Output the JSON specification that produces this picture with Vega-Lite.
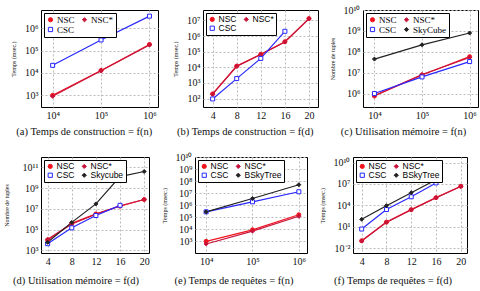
{
"$schema":"https://vega.github.io/schema/vega-lite/v6.json",
"padding":{"left":2,"top":4,"right":2,"bottom":2},
"datasets":{"d":[
{"p":"a","s":"NSC","x":10000,"y":1000},{"p":"a","s":"NSC","x":100000,"y":13000},{"p":"a","s":"NSC","x":1000000,"y":190000},
{"p":"a","s":"NSC*","x":10000,"y":900},{"p":"a","s":"NSC*","x":100000,"y":12500},{"p":"a","s":"NSC*","x":1000000,"y":180000},
{"p":"a","s":"CSC","x":10000,"y":22000},{"p":"a","s":"CSC","x":100000,"y":300000},{"p":"a","s":"CSC","x":1000000,"y":3500000},
{"p":"b","s":"NSC","x":4,"y":200},{"p":"b","s":"NSC","x":8,"y":12000},{"p":"b","s":"NSC","x":12,"y":68000},{"p":"b","s":"NSC","x":16,"y":430000},{"p":"b","s":"NSC","x":20,"y":13000000},
{"p":"b","s":"NSC*","x":4,"y":190},{"p":"b","s":"NSC*","x":8,"y":11500},{"p":"b","s":"NSC*","x":12,"y":66000},{"p":"b","s":"NSC*","x":16,"y":420000},{"p":"b","s":"NSC*","x":20,"y":12500000},
{"p":"b","s":"CSC","x":4,"y":95},{"p":"b","s":"CSC","x":8,"y":1900},{"p":"b","s":"CSC","x":12,"y":37000},{"p":"b","s":"CSC","x":16,"y":2000000},
{"p":"c","s":"NSC","x":10000,"y":800000},{"p":"c","s":"NSC","x":100000,"y":8000000},{"p":"c","s":"NSC","x":1000000,"y":60000000},
{"p":"c","s":"NSC*","x":10000,"y":850000},{"p":"c","s":"NSC*","x":100000,"y":8500000},{"p":"c","s":"NSC*","x":1000000,"y":55000000},
{"p":"c","s":"CSC","x":10000,"y":1050000},{"p":"c","s":"CSC","x":100000,"y":6500000},{"p":"c","s":"CSC","x":1000000,"y":35000000},
{"p":"c","s":"SkyCube","x":10000,"y":46000000},{"p":"c","s":"SkyCube","x":100000,"y":220000000},{"p":"c","s":"SkyCube","x":1000000,"y":800000000},
{"p":"d","s":"NSC","x":4,"y":10000},{"p":"d","s":"NSC","x":8,"y":400000},{"p":"d","s":"NSC","x":12,"y":3300000},{"p":"d","s":"NSC","x":16,"y":18000000},{"p":"d","s":"NSC","x":20,"y":80000000},
{"p":"d","s":"NSC*","x":4,"y":12000},{"p":"d","s":"NSC*","x":8,"y":350000},{"p":"d","s":"NSC*","x":12,"y":3000000},{"p":"d","s":"NSC*","x":16,"y":20000000},{"p":"d","s":"NSC*","x":20,"y":80000000},
{"p":"d","s":"CSC","x":4,"y":4400},{"p":"d","s":"CSC","x":8,"y":150000},{"p":"d","s":"CSC","x":12,"y":2300000},{"p":"d","s":"CSC","x":16,"y":22000000},
{"p":"d","s":"Skycube","x":4,"y":6000},{"p":"d","s":"Skycube","x":8,"y":500000},{"p":"d","s":"Skycube","x":12,"y":30000000},{"p":"d","s":"Skycube","x":16,"y":13000000000},{"p":"d","s":"Skycube","x":20,"y":40000000000},
{"p":"e","s":"NSC","x":10000,"y":1000},{"p":"e","s":"NSC","x":100000,"y":9000},{"p":"e","s":"NSC","x":1000000,"y":160000},
{"p":"e","s":"NSC*","x":10000,"y":600},{"p":"e","s":"NSC*","x":100000,"y":7000},{"p":"e","s":"NSC*","x":1000000,"y":120000},
{"p":"e","s":"CSC","x":10000,"y":280000},{"p":"e","s":"CSC","x":100000,"y":1900000},{"p":"e","s":"CSC","x":1000000,"y":13000000},
{"p":"e","s":"BSkyTree","x":10000,"y":280000},{"p":"e","s":"BSkyTree","x":100000,"y":3600000},{"p":"e","s":"BSkyTree","x":1000000,"y":50000000},
{"p":"f","s":"NSC","x":4,"y":0.11},{"p":"f","s":"NSC","x":8,"y":45},{"p":"f","s":"NSC","x":12,"y":2500},{"p":"f","s":"NSC","x":16,"y":120000},{"p":"f","s":"NSC","x":20,"y":4700000},
{"p":"f","s":"NSC*","x":4,"y":0.1},{"p":"f","s":"NSC*","x":8,"y":42},{"p":"f","s":"NSC*","x":12,"y":2400},{"p":"f","s":"NSC*","x":16,"y":115000},{"p":"f","s":"NSC*","x":20,"y":4500000},
{"p":"f","s":"CSC","x":4,"y":4.8},{"p":"f","s":"CSC","x":8,"y":2600},{"p":"f","s":"CSC","x":12,"y":160000},{"p":"f","s":"CSC","x":16,"y":14000000},
{"p":"f","s":"BSkyTree","x":4,"y":110},{"p":"f","s":"BSkyTree","x":8,"y":9000},{"p":"f","s":"BSkyTree","x":12,"y":600000},{"p":"f","s":"BSkyTree","x":16,"y":40000000}
]},
"data":{"name":"d"},
"spacing":13,
"vconcat":[
{"hconcat":[
{"title":"(a) Temps de construction = f(n)","width":117,"height":97,
 "transform":[{"filter":"datum.p=='a'"}],
 "encoding":{
  "x":{"field":"x","type":"quantitative","scale":{"type":"log","domain":[5750,1500000],"nice":false},"axis":{"title":null,"values":[10000,100000,1000000],"labelExpr":"['10⁻²','10⁻¹','10⁰','10¹','10²','10³','10⁴','10⁵','10⁶','10⁷','10⁸','10⁹','10¹⁰','10¹¹','10¹²'][round(log(datum.value)/LN10)+2]"}},
  "y":{"field":"y","type":"quantitative","scale":{"type":"log","domain":[300,6600000],"nice":false},"axis":{"title":"Temps (msec.)","values":[1000,10000,100000,1000000],"labelExpr":"['10⁻²','10⁻¹','10⁰','10¹','10²','10³','10⁴','10⁵','10⁶','10⁷','10⁸','10⁹','10¹⁰','10¹¹','10¹²'][round(log(datum.value)/LN10)+2]"}},
  "stroke":{"field":"s","type":"nominal","title":null,"scale":{"domain":["NSC","CSC","NSC*"],"range":["#f0141e","#2828ff","#c8143c"]},"legend":{"labelFont":"Liberation Serif","labelFontSize":9}}
 },
 "layer":[
  {"mark":{"type":"line","strokeWidth":1.2}},
  {"mark":{"type":"point","size":16,"opacity":1,"strokeWidth":1},
   "encoding":{"shape":{"field":"s","type":"nominal","title":null,"scale":{"domain":["NSC","CSC","NSC*"],"range":["circle","square","diamond"]},"legend":{"labelFont":"Liberation Serif","labelFontSize":9}},
   "fill":{"field":"s","type":"nominal","title":null,"scale":{"domain":["NSC","CSC","NSC*"],"range":["#f0141e","#ffffff","#c8143c"]},"legend":{"labelFont":"Liberation Serif","labelFontSize":9}}}}
 ]},
{"title":"(b) Temps de construction = f(d)","width":115,"height":97,
 "transform":[{"filter":"datum.p=='b'"}],
 "encoding":{
  "x":{"field":"x","type":"quantitative","scale":{"domain":[2.4,21.5],"nice":false,"zero":false},"axis":{"title":null,"values":[4,8,12,16,20]}},
  "y":{"field":"y","type":"quantitative","scale":{"type":"log","domain":[29,46000000],"nice":false},"axis":{"title":"Temps (msec.)","values":[100,1000,10000,100000,1000000,10000000],"labelExpr":"['10⁻²','10⁻¹','10⁰','10¹','10²','10³','10⁴','10⁵','10⁶','10⁷','10⁸','10⁹','10¹⁰','10¹¹','10¹²'][round(log(datum.value)/LN10)+2]"}},
  "stroke":{"field":"s","type":"nominal","title":null,"scale":{"domain":["NSC","CSC","NSC*"],"range":["#f0141e","#2828ff","#c8143c"]}}
 },
 "layer":[
  {"mark":{"type":"line","strokeWidth":1.2}},
  {"mark":{"type":"point","size":16,"opacity":1,"strokeWidth":1},
   "encoding":{"shape":{"field":"s","type":"nominal","title":null,"scale":{"domain":["NSC","CSC","NSC*"],"range":["circle","square","diamond"]}},
   "fill":{"field":"s","type":"nominal","title":null,"scale":{"domain":["NSC","CSC","NSC*"],"range":["#f0141e","#ffffff","#c8143c"]}}}}
 ]},
{"title":"(c) Utilisation mémoire = f(n)","width":115,"height":97,
 "transform":[{"filter":"datum.p=='c'"}],
 "encoding":{
  "x":{"field":"x","type":"quantitative","scale":{"type":"log","domain":[5750,1500000],"nice":false},"axis":{"title":null,"values":[10000,100000,1000000],"labelExpr":"['10⁻²','10⁻¹','10⁰','10¹','10²','10³','10⁴','10⁵','10⁶','10⁷','10⁸','10⁹','10¹⁰','10¹¹','10¹²'][round(log(datum.value)/LN10)+2]"}},
  "y":{"field":"y","type":"quantitative","scale":{"type":"log","domain":[240000,10000000000],"nice":false},"axis":{"title":"Nombre de tuples","values":[1000000,10000000,100000000,1000000000,10000000000],"labelExpr":"['10⁻²','10⁻¹','10⁰','10¹','10²','10³','10⁴','10⁵','10⁶','10⁷','10⁸','10⁹','10¹⁰','10¹¹','10¹²'][round(log(datum.value)/LN10)+2]"}},
  "stroke":{"field":"s","type":"nominal","title":null,"scale":{"domain":["NSC","CSC","NSC*","SkyCube"],"range":["#f0141e","#2828ff","#c8143c","#222222"]},"legend":{"labelFont":"Liberation Serif","labelFontSize":9}}
 },
 "layer":[
  {"mark":{"type":"line","strokeWidth":1.2}},
  {"mark":{"type":"point","size":16,"opacity":1,"strokeWidth":1},
   "encoding":{"shape":{"field":"s","type":"nominal","title":null,"scale":{"domain":["NSC","CSC","NSC*","SkyCube"],"range":["circle","square","diamond","diamond"]},"legend":{"labelFont":"Liberation Serif","labelFontSize":9}},
   "fill":{"field":"s","type":"nominal","title":null,"scale":{"domain":["NSC","CSC","NSC*","SkyCube"],"range":["#f0141e","#ffffff","#c8143c","#222222"]},"legend":{"labelFont":"Liberation Serif","labelFontSize":9}}}}
 ]}
],"spacing":45,"bounds":"flush","resolve":{"scale":{"stroke":"independent","shape":"independent","fill":"independent"}}},
{"hconcat":[
{"title":{"text":"(d) Utilisation mémoire = f(d)","offset":10},"width":108,"height":96,
 "transform":[{"filter":"datum.p=='d'"}],
 "encoding":{
  "x":{"field":"x","type":"quantitative","scale":{"domain":[2.9,20.8],"nice":false,"zero":false},"axis":{"title":null,"values":[4,8,12,16,20]}},
  "y":{"field":"y","type":"quantitative","scale":{"type":"log","domain":[560,1000000000000],"nice":false},"axis":{"title":"Nombre de tuples","titlePadding":13,"values":[1000,100000,10000000,1000000000,100000000000],"labelExpr":"['10⁻²','10⁻¹','10⁰','10¹','10²','10³','10⁴','10⁵','10⁶','10⁷','10⁸','10⁹','10¹⁰','10¹¹','10¹²'][round(log(datum.value)/LN10)+2]"}},
  "stroke":{"field":"s","type":"nominal","title":null,"scale":{"domain":["NSC","CSC","NSC*","Skycube"],"range":["#f0141e","#2828ff","#c8143c","#222222"]}}
 },
 "layer":[
  {"mark":{"type":"line","strokeWidth":1.2}},
  {"mark":{"type":"point","size":16,"opacity":1,"strokeWidth":1},
   "encoding":{"shape":{"field":"s","type":"nominal","title":null,"scale":{"domain":["NSC","CSC","NSC*","Skycube"],"range":["circle","square","diamond","diamond"]}},
   "fill":{"field":"s","type":"nominal","title":null,"scale":{"domain":["NSC","CSC","NSC*","Skycube"],"range":["#f0141e","#ffffff","#c8143c","#222222"]}}}}
 ]},
{"title":{"text":"(e) Temps de requêtes = f(n)","offset":10},"width":112,"height":96,
 "transform":[{"filter":"datum.p=='e'"}],
 "encoding":{
  "x":{"field":"x","type":"quantitative","scale":{"type":"log","domain":[5750,1500000],"nice":false},"axis":{"title":null,"values":[10000,100000,1000000],"labelExpr":"['10⁻²','10⁻¹','10⁰','10¹','10²','10³','10⁴','10⁵','10⁶','10⁷','10⁸','10⁹','10¹⁰','10¹¹','10¹²'][round(log(datum.value)/LN10)+2]"}},
  "y":{"field":"y","type":"quantitative","scale":{"type":"log","domain":[107,10000000000],"nice":false},"axis":{"title":"Temps (msec.)","values":[1000,10000,100000,1000000,10000000,100000000,1000000000,10000000000],"labelExpr":"['10⁻²','10⁻¹','10⁰','10¹','10²','10³','10⁴','10⁵','10⁶','10⁷','10⁸','10⁹','10¹⁰','10¹¹','10¹²'][round(log(datum.value)/LN10)+2]"}},
  "stroke":{"field":"s","type":"nominal","title":null,"scale":{"domain":["NSC","CSC","NSC*","BSkyTree"],"range":["#f0141e","#2828ff","#c8143c","#222222"]}}
 },
 "layer":[
  {"mark":{"type":"line","strokeWidth":1.2}},
  {"mark":{"type":"point","size":16,"opacity":1,"strokeWidth":1},
   "encoding":{"shape":{"field":"s","type":"nominal","title":null,"scale":{"domain":["NSC","CSC","NSC*","BSkyTree"],"range":["circle","square","diamond","diamond"]}},
   "fill":{"field":"s","type":"nominal","title":null,"scale":{"domain":["NSC","CSC","NSC*","BSkyTree"],"range":["#f0141e","#ffffff","#c8143c","#222222"]}}}}
 ]},
{"title":{"text":"(f) Temps de requêtes = f(d)","offset":10},"width":114,"height":96,
 "transform":[{"filter":"datum.p=='f'"}],
 "encoding":{
  "x":{"field":"x","type":"quantitative","scale":{"domain":[2.6,21],"nice":false,"zero":false},"axis":{"title":null,"values":[4,8,12,16,20]}},
  "y":{"field":"y","type":"quantitative","scale":{"type":"log","domain":[0.0021,60000000000],"nice":false},"axis":{"title":"Temps (msec.)","values":[0.01,10,10000,10000000,10000000000],"labelExpr":"['10⁻²','10⁻¹','10⁰','10¹','10²','10³','10⁴','10⁵','10⁶','10⁷','10⁸','10⁹','10¹⁰','10¹¹','10¹²'][round(log(datum.value)/LN10)+2]"}},
  "stroke":{"field":"s","type":"nominal","title":null,"scale":{"domain":["NSC","CSC","NSC*","BSkyTree"],"range":["#f0141e","#2828ff","#c8143c","#222222"]}}
 },
 "layer":[
  {"mark":{"type":"line","strokeWidth":1.2}},
  {"mark":{"type":"point","size":16,"opacity":1,"strokeWidth":1},
   "encoding":{"shape":{"field":"s","type":"nominal","title":null,"scale":{"domain":["NSC","CSC","NSC*","BSkyTree"],"range":["circle","square","diamond","diamond"]}},
   "fill":{"field":"s","type":"nominal","title":null,"scale":{"domain":["NSC","CSC","NSC*","BSkyTree"],"range":["#f0141e","#ffffff","#c8143c","#222222"]}}}}
 ]}
],"spacing":46,"bounds":"flush","resolve":{"scale":{"stroke":"independent","shape":"independent","fill":"independent"}}}
],
"resolve":{"scale":{"stroke":"independent","shape":"independent","fill":"independent"}},
"config":{
 "view":{"stroke":"black","strokeWidth":1},
 "axis":{"labelFont":"Liberation Serif","labelFontSize":10,"labelColor":"#111","titleFont":"Liberation Serif","titleFontSize":6,"titleFontWeight":"normal","titleColor":"#111","grid":true,"gridDash":[2,2],"gridColor":"#bbbbbb","ticks":false,"domain":false,"labelPadding":3,"titlePadding":8},
 "legend":{"orient":"top-left","columns":2,"strokeColor":"black","fillColor":"white","padding":2,"offset":3,"rowPadding":0,"columnPadding":5,"symbolSize":18,"labelFontSize":8.5,"labelFont":"Liberation Sans","labelColor":"#000","symbolStrokeWidth":1,"labelOffset":2,"cornerRadius":0},
 "title":{"orient":"bottom","anchor":"middle","frame":"bounds","font":"Liberation Serif","fontSize":10.5,"fontWeight":"normal","color":"#111","offset":7}
}
}
